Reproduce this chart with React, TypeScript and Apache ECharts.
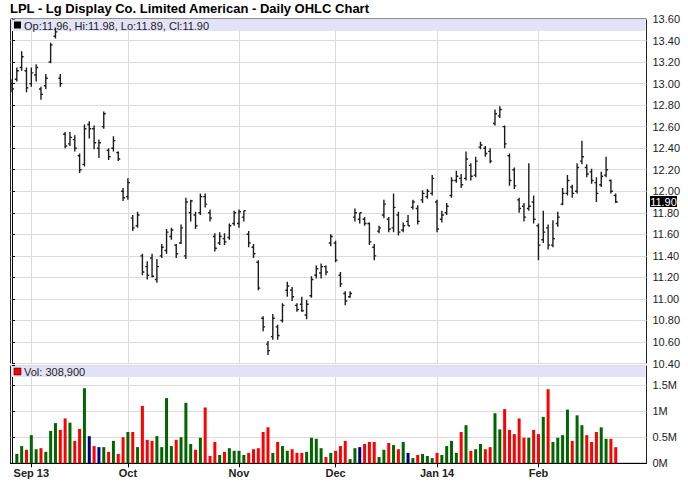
import React, { useEffect, useRef } from 'react';
import * as echarts from 'echarts';

const TITLE = 'LPL - Lg Display Co. Limited American - Daily OHLC Chart';
const FIRST_DAY = '2013-08-27';
const LAST_DAY = '2014-02-26';
const HOLIDAYS = ['2013-09-02', '2013-11-28', '2013-12-25', '2014-01-01', '2014-01-20', '2014-02-17'];
const MONTHS = ['Jan', 'Feb', 'Mar', 'Apr', 'May', 'Jun', 'Jul', 'Aug', 'Sep', 'Oct', 'Nov', 'Dec'];

const opens = [
  13.0, 13.04, 13.15, 13.12, 13.0, 13.08, 12.95, 12.98, 13.2, 13.44,
  13.05, 12.53, 12.44, 12.48, 12.33, 12.25, 12.62, 12.58, 12.4, 12.6,
  12.38, 12.4, 12.36, 12.0, 11.95, 11.75, 11.68, 11.4, 11.3, 11.38,
  11.18, 11.4, 11.45, 11.58, 11.5, 11.52, 11.4, 11.8, 11.78, 11.8,
  11.95, 11.8, 11.58, 11.52, 11.56, 11.57, 11.7, 11.7, 11.76, 11.6,
  11.48, 11.34, 10.82, 10.58, 10.65, 10.74, 10.8, 11.08, 11.08, 10.94,
  10.95, 10.85, 11.03, 11.22, 11.24, 11.3, 11.52, 11.52, 11.22, 11.05,
  11.02, 11.76, 11.74, 11.74, 11.7, 11.48, 11.63, 11.78, 11.74, 11.66,
  11.78, 11.64, 11.72, 11.85, 11.84, 11.92, 11.95, 11.98, 11.9, 11.74,
  11.8, 11.96, 12.1, 12.12, 12.12, 12.24, 12.15, 12.41, 12.4, 12.37,
  12.63, 12.7, 12.6, 12.33, 12.2, 11.92, 11.86, 11.84, 11.9, 11.68,
  11.55, 11.66, 11.5, 11.7, 11.88, 11.98, 12.04, 12.0, 12.28, 12.22,
  12.18, 12.08, 12.06, 12.15, 12.1, 11.96,
];
const highs = [
  13.04, 13.15, 13.3, 13.15, 13.15, 13.18, 12.97, 13.09, 13.38, 13.52,
  13.09, 12.55, 12.55, 12.52, 12.35, 12.62, 12.65, 12.61, 12.48, 12.74,
  12.4, 12.51, 12.37, 12.03, 12.12, 11.78, 11.81, 11.42, 11.35, 11.42,
  11.37, 11.51, 11.65, 11.66, 11.51, 11.69, 11.94, 11.92, 11.81, 11.98,
  11.98, 11.83, 11.61, 11.62, 11.61, 11.7, 11.82, 11.83, 11.82, 11.63,
  11.51, 11.36, 10.84, 10.61, 10.86, 10.76, 10.96, 11.16, 11.11, 10.96,
  11.02, 10.99, 11.21, 11.31, 11.33, 11.31, 11.6, 11.54, 11.25, 11.07,
  11.07, 11.84, 11.8, 11.76, 11.71, 11.51, 11.68, 11.92, 11.76, 11.98,
  11.81, 11.71, 11.78, 11.92, 11.87, 12.01, 12.02, 12.15, 11.92, 11.82,
  11.89, 12.13, 12.19, 12.16, 12.37, 12.26, 12.32, 12.46, 12.42, 12.4,
  12.76, 12.79, 12.61, 12.35, 12.22, 11.94, 11.89, 12.26, 11.96, 11.7,
  11.82, 11.69, 11.73, 11.81, 12.03, 12.15, 12.06, 12.26, 12.47, 12.25,
  12.21, 12.13, 12.18, 12.32, 12.11, 11.98,
];
const lows = [
  12.92, 13.02, 13.12, 12.92, 12.97, 13.02, 12.85, 12.95, 13.19, 13.42,
  12.97, 12.4, 12.42, 12.37, 12.17, 12.23, 12.49, 12.39, 12.31, 12.58,
  12.29, 12.37, 12.28, 11.91, 11.92, 11.63, 11.66, 11.22, 11.18, 11.2,
  11.15, 11.38, 11.42, 11.55, 11.38, 11.51, 11.37, 11.72, 11.65, 11.78,
  11.85, 11.72, 11.44, 11.5, 11.5, 11.55, 11.68, 11.66, 11.72, 11.48,
  11.38, 11.08, 10.7, 10.48, 10.62, 10.62, 10.78, 11.02, 10.98, 10.88,
  10.88, 10.81, 11.01, 11.19, 11.19, 11.22, 11.49, 11.34, 11.11, 10.94,
  11.01, 11.72, 11.7, 11.68, 11.5, 11.36, 11.61, 11.75, 11.62, 11.62,
  11.59, 11.62, 11.68, 11.83, 11.69, 11.89, 11.93, 11.96, 11.62, 11.71,
  11.78, 11.94, 12.08, 12.03, 12.1, 12.1, 12.13, 12.39, 12.32, 12.26,
  12.61, 12.68, 12.4, 12.05, 12.02, 11.8, 11.72, 11.82, 11.7, 11.36,
  11.52, 11.46, 11.48, 11.67, 11.87, 11.96, 11.94, 11.98, 12.25, 12.13,
  12.07, 11.9, 12.04, 12.13, 11.98, 11.89,
];
const closes = [
  12.95, 13.12, 13.25, 12.96, 13.1, 13.15, 12.9, 13.05, 13.36, 13.48,
  13.0, 12.42, 12.5, 12.4, 12.2, 12.58, 12.58, 12.45, 12.45, 12.72,
  12.32, 12.47, 12.3, 11.94, 12.08, 11.66, 11.78, 11.25, 11.22, 11.21,
  11.3, 11.48, 11.62, 11.64, 11.42, 11.66, 11.9, 11.91, 11.68, 11.95,
  11.88, 11.75, 11.47, 11.58, 11.53, 11.68, 11.8, 11.81, 11.82, 11.52,
  11.42, 11.1, 10.74, 10.52, 10.82, 10.66, 10.94, 11.12, 11.02, 10.9,
  10.89, 10.95, 11.18, 11.28, 11.3, 11.25, 11.58, 11.36, 11.14, 10.98,
  11.05, 11.8, 11.8, 11.7, 11.53, 11.4, 11.66, 11.88, 11.65, 11.85,
  11.62, 11.68, 11.68, 11.9, 11.72, 11.98, 12.0, 12.12, 11.65, 11.78,
  11.86, 12.1, 12.14, 12.06, 12.3, 12.14, 12.28, 12.43, 12.35, 12.28,
  12.72, 12.76, 12.44, 12.1, 12.05, 11.84, 11.76, 11.86, 11.74, 11.5,
  11.62, 11.5, 11.56, 11.76, 11.98, 12.1, 11.98, 12.22, 12.32, 12.16,
  12.1, 11.98, 12.14, 12.2, 12.0, 11.9,
];
const volumes: (number | null)[] = [
  null, 180000, 330000, 260000, 540000, 270000, 290000, 220000, 620000, 770000,
  640000, 860000, 780000, 430000, 660000, 1440000, 520000, 330000, 310000, 310000,
  220000, 430000, 180000, 500000, 600000, 600000, 310000, 1100000, 450000, 430000,
  520000, 310000, 1250000, 330000, 450000, 500000, 1160000, 370000, 260000, 490000,
  1070000, 140000, 410000, 160000, 220000, 290000, 240000, 240000, 160000, 200000,
  270000, 290000, 600000, 690000, 200000, 410000, 330000, 240000, 270000, 200000,
  200000, 220000, 490000, 470000, 290000, 120000, 200000, 240000, 330000, 430000,
  80000, 290000, 310000, 370000, 410000, 410000, 120000, 260000, 390000, 350000,
  270000, 410000, 200000, 100000, 160000, 180000, 140000, 100000, 200000, 160000,
  330000, 430000, 200000, 600000, 730000, 240000, 270000, 370000, 270000, 310000,
  960000, 650000, 1040000, 640000, 560000, 860000, 490000, 490000, 640000, 560000,
  890000, 1420000, 410000, 490000, 540000, 1030000, 430000, 920000, 730000, 540000,
  410000, 600000, 690000, 470000, 470000, 308900,
];

const PRICE_MIN = 10.4;
const PRICE_MAX = 13.6;
const PRICE_STEP = 0.2;
const VOL_MAX = 1875000;
const VOL_STEP = 500000;

const FONT = '"Liberation Sans", Arial, Helvetica, sans-serif';
const UP = '#006600';
const DOWN = '#ff0000';
const FLAT = '#000080';
const BAR = '#1c1c1c';

function tradingDays(): string[] {
  const out: string[] = [];
  const d = new Date(FIRST_DAY + 'T00:00:00Z');
  const end = new Date(LAST_DAY + 'T00:00:00Z');
  while (d.getTime() <= end.getTime()) {
    const dow = d.getUTCDay();
    const s = d.toISOString().slice(0, 10);
    if (dow !== 0 && dow !== 6 && HOLIDAYS.indexOf(s) < 0) out.push(s);
    d.setUTCDate(d.getUTCDate() + 1);
  }
  return out;
}

export default function App() {
  const ref = useRef<HTMLDivElement>(null);

  useEffect(() => {
    if (!ref.current) return;
    const chart = echarts.init(ref.current, undefined, { renderer: 'svg' });
    const dates = tradingDays();
    const n = closes.length;

    const monthTicks: number[] = [];
    const monthLabel: Record<number, string> = {};
    for (let i = 1; i < dates.length; i++) {
      if (dates[i].slice(5, 7) !== dates[i - 1].slice(5, 7)) {
        const m = parseInt(dates[i].slice(5, 7), 10) - 1;
        const yy = dates[i].slice(2, 4);
        monthLabel[i] = MONTHS[m] + (monthTicks.length === 0 || m === 0 ? ' ' + yy : '');
        monthTicks.push(i);
      }
    }

    const ohlc = closes.map((c, i) => [i, opens[i], highs[i], lows[i], c]);
    const volColor = (i: number) => {
      if (i === 0) return FLAT;
      if (closes[i] > closes[i - 1]) return UP;
      if (closes[i] < closes[i - 1]) return DOWN;
      return FLAT;
    };
    const volData: number[][] = [];
    volumes.forEach((v, i) => {
      if (v != null) volData.push([i, v]);
    });

    const X_MIN = -0.31;
    const X_MAX = 131.37;
    const gridLine = { show: true, lineStyle: { color: '#dcdcdc', width: 1 } };

    const last = n - 1;
    const legendText = `Op:${opens[last].toFixed(2)}, Hi:${highs[last].toFixed(2)}, Lo:${lows[last].toFixed(2)}, Cl:${closes[last].toFixed(2)}`;
    const volText = `Vol: ${(volumes[last] as number).toLocaleString('en-US')}`;

    const baseGraphics = (tagY: number | null) => {
      const g: any[] = [
        { type: 'rect', z: 1, shape: { x: 11, y: 19.5, width: 634.5, height: 11.5 }, style: { fill: '#e2e2f8' } },
        { type: 'rect', z: 3, shape: { x: 14, y: 21.5, width: 7, height: 7 }, style: { fill: '#000' } },
        { type: 'text', z: 3, x: 24, y: 25.5, style: { text: legendText, font: `11px ${FONT}`, fill: '#222', verticalAlign: 'middle' } },
        { type: 'rect', z: 1, shape: { x: 11, y: 366, width: 634.5, height: 11 }, style: { fill: '#e2e2f8' } },
        { type: 'rect', z: 3, shape: { x: 14, y: 368, width: 7, height: 7 }, style: { fill: DOWN, stroke: '#000', lineWidth: 0.5 } },
        { type: 'text', z: 3, x: 24, y: 372, style: { text: volText, font: `11px ${FONT}`, fill: '#222', verticalAlign: 'middle' } },
      ];
      if (tagY != null) {
        g.push({ type: 'rect', z: 10, shape: { x: 650, y: tagY - 6, width: 27, height: 11 }, style: { fill: '#000' } });
        g.push({ type: 'text', z: 11, x: 663.5, y: tagY, style: { text: closes[last].toFixed(2), font: `11px ${FONT}`, fill: '#fff', align: 'center', verticalAlign: 'middle' } });
      }
      return g;
    };

    const option: any = {
      animation: false,
      backgroundColor: '#fff',
      title: {
        text: TITLE,
        left: 10,
        top: 2,
        padding: 0,
        textStyle: { fontFamily: FONT, fontSize: 13, fontWeight: 'bold', color: '#000' },
      },
      grid: [
        { left: 10.5, right: 41.5, top: 19, height: 344.5, show: true, borderColor: '#222', borderWidth: 1, backgroundColor: 'transparent' },
        { left: 10.5, right: 41.5, top: 365.5, height: 97.8, show: true, borderColor: '#222', borderWidth: 1, backgroundColor: 'transparent' },
      ],
      xAxis: [
        {
          type: 'value', gridIndex: 0, min: X_MIN, max: X_MAX,
          axisLine: { show: false },
          axisTick: { show: false, customValues: monthTicks },
          axisLabel: { show: false, customValues: monthTicks },
          splitLine: gridLine,
        },
        {
          type: 'value', gridIndex: 1, min: X_MIN, max: X_MAX,
          axisLine: { show: true, lineStyle: { color: '#000' } },
          axisTick: { show: true, length: 4, customValues: monthTicks, lineStyle: { color: '#000' } },
          axisLabel: {
            customValues: monthTicks,
            formatter: (v: number) => monthLabel[Math.round(v)] || '',
            fontFamily: FONT, fontSize: 11, fontWeight: 'bold', color: '#222', margin: 4,
          },
          splitLine: gridLine,
        },
      ],
      yAxis: [
        {
          type: 'value', gridIndex: 0, position: 'right', min: PRICE_MIN, max: PRICE_MAX, interval: PRICE_STEP,
          axisLine: { show: true, lineStyle: { color: '#000' } },
          axisTick: { show: true, length: 3, lineStyle: { color: '#000' } },
          axisLabel: { formatter: (v: number) => v.toFixed(2), fontFamily: FONT, fontSize: 11, color: '#222', margin: 6 },
          splitLine: gridLine,
        },
        {
          type: 'value', gridIndex: 1, position: 'right', min: 0, max: VOL_MAX, interval: VOL_STEP,
          axisLine: { show: true, lineStyle: { color: '#000' } },
          axisTick: { show: true, length: 3, lineStyle: { color: '#000' } },
          axisLabel: {
            formatter: (v: number) => (Math.abs(v % VOL_STEP) < 1 ? v / 1e6 + 'M' : ''),
            fontFamily: FONT, fontSize: 11, color: '#222', margin: 6,
          },
          splitLine: gridLine,
        },
      ],
      series: [
        {
          type: 'custom',
          xAxisIndex: 0,
          yAxisIndex: 0,
          z: 5,
          clip: true,
          encode: { x: 0, y: [1, 2, 3, 4] },
          data: ohlc,
          renderItem: (_params: any, api: any) => {
            const x = api.value(0);
            const o = api.coord([x, api.value(1)]);
            const h = api.coord([x, api.value(2)]);
            const l = api.coord([x, api.value(3)]);
            const c = api.coord([x, api.value(4)]);
            const style = { stroke: BAR, lineWidth: 1.4 };
            return {
              type: 'group',
              children: [
                { type: 'line', shape: { x1: h[0], y1: h[1], x2: l[0], y2: l[1] }, style },
                { type: 'line', shape: { x1: o[0] - 2, y1: o[1], x2: o[0], y2: o[1] }, style },
                { type: 'line', shape: { x1: c[0], y1: c[1], x2: c[0] + 2, y2: c[1] }, style },
              ],
            };
          },
        },
        {
          type: 'custom',
          xAxisIndex: 1,
          yAxisIndex: 1,
          z: 5,
          encode: { x: 0, y: 1 },
          data: volData,
          renderItem: (_params: any, api: any) => {
            const x = api.value(0);
            const top = api.coord([x, api.value(1)]);
            const base = api.coord([x, 0]);
            return {
              type: 'rect',
              shape: { x: top[0] - 1.5, y: top[1], width: 3, height: base[1] - top[1] },
              style: { fill: volColor(x) },
            };
          },
        },
      ],
      graphic: baseGraphics(null),
    };

    chart.setOption(option);
    const tagY = chart.convertToPixel({ yAxisIndex: 0 } as any, closes[last]) as number;
    chart.setOption({ graphic: baseGraphics(tagY) });

    return () => chart.dispose();
  }, []);

  return <div ref={ref} style={{ position: 'absolute', left: 0, top: 0, width: 688, height: 503 }} />;
}
